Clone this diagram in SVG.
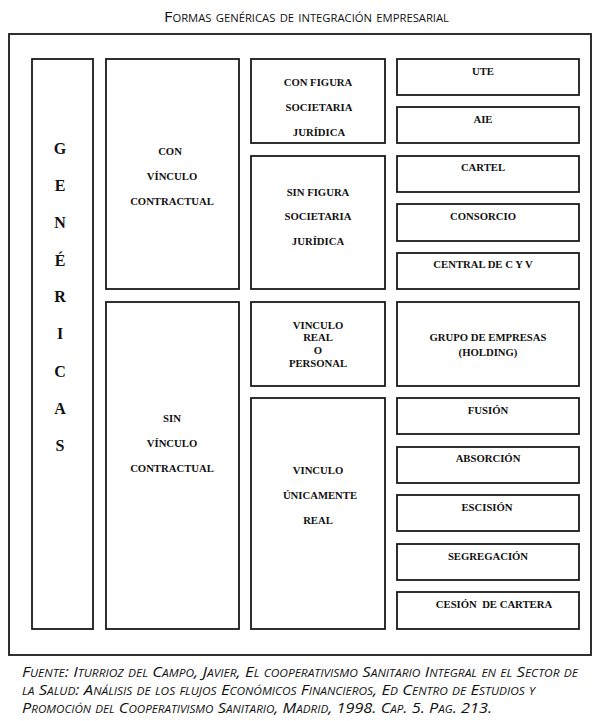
<svg xmlns="http://www.w3.org/2000/svg" width="600" height="721" viewBox="0 0 600 721">
<style>
rect.b{fill:#fff;stroke:#1a1a1a;stroke-width:1.8}
text.t{font-family:"Liberation Serif","Times New Roman",serif;font-weight:bold;font-size:10.7px;fill:#111;text-anchor:middle}
text.g{font-family:"Liberation Serif","Times New Roman",serif;font-weight:bold;font-size:16px;fill:#111;text-anchor:middle}
text.h{font-family:"Open Sans","Liberation Sans",sans-serif;font-size:14.5px;fill:#111;font-variant:small-caps}
text.f{font-family:"Open Sans","Liberation Sans",sans-serif;font-size:14px;font-style:italic;fill:#111;font-variant:small-caps}
</style>
<rect width="600" height="721" fill="#fff"/>
<text class="h" x="164" y="22" textLength="285" lengthAdjust="spacingAndGlyphs">Formas genéricas de integración empresarial</text>
<rect class="b" x="9" y="34" width="582" height="621"/>
<g id="genericas">
<rect class="b" x="32" y="59" width="61" height="570"/>
<text class="g" x="60" y="154">G</text>
<text class="g" x="60" y="191">E</text>
<text class="g" x="60" y="228">N</text>
<text class="g" x="60" y="266">É</text>
<text class="g" x="60" y="302">R</text>
<text class="g" x="60" y="339">I</text>
<text class="g" x="60" y="377">C</text>
<text class="g" x="60" y="414">A</text>
<text class="g" x="60" y="451">S</text>
</g>
<g id="con-vinculo">
<rect class="b" x="106" y="59" width="133" height="230"/>
<text class="t" x="170" y="155">CON</text>
<text class="t" x="172" y="180">VÍNCULO</text>
<text class="t" x="172" y="205">CONTRACTUAL</text>
</g>
<g id="sin-vinculo">
<rect class="b" x="106" y="302" width="133" height="327"/>
<text class="t" x="172" y="422">SIN</text>
<text class="t" x="172" y="447">VÍNCULO</text>
<text class="t" x="172" y="472">CONTRACTUAL</text>
</g>
<g id="con-figura">
<rect class="b" x="251" y="59" width="134" height="84"/>
<text class="t" x="318" y="86">CON FIGURA</text>
<text class="t" x="319" y="111">SOCIETARIA</text>
<text class="t" x="319" y="136">JURÍDICA</text>
</g>
<g id="sin-figura">
<rect class="b" x="251" y="156" width="134" height="133"/>
<text class="t" x="318" y="196">SIN FIGURA</text>
<text class="t" x="318" y="220">SOCIETARIA</text>
<text class="t" x="318" y="245">JURÍDICA</text>
</g>
<g id="vinculo-real-personal">
<rect class="b" x="251" y="302" width="134" height="84"/>
<text class="t" x="318" y="329">VINCULO</text>
<text class="t" x="318" y="341">REAL</text>
<text class="t" x="318" y="354">O</text>
<text class="t" x="318" y="367">PERSONAL</text>
</g>
<g id="vinculo-real">
<rect class="b" x="251" y="398" width="134" height="231"/>
<text class="t" x="318" y="474">VINCULO</text>
<text class="t" x="320" y="499">ÚNICAMENTE</text>
<text class="t" x="318" y="524">REAL</text>
</g>
<g id="ute"><rect class="b" x="397" y="59" width="182" height="36"/><text class="t" x="483" y="75">UTE</text></g>
<g id="aie"><rect class="b" x="397" y="107" width="182" height="36"/><text class="t" x="483" y="123">AIE</text></g>
<g id="cartel"><rect class="b" x="397" y="156" width="182" height="36"/><text class="t" x="483" y="171">CARTEL</text></g>
<g id="consorcio"><rect class="b" x="397" y="204" width="182" height="37"/><text class="t" x="483" y="220">CONSORCIO</text></g>
<g id="central"><rect class="b" x="397" y="253" width="182" height="36"/><text class="t" x="483" y="268">CENTRAL DE C Y V</text></g>
<g id="grupo"><rect class="b" x="397" y="302" width="182" height="84"/><text class="t" x="488" y="341">GRUPO DE EMPRESAS</text><text class="t" x="488" y="356">(HOLDING)</text></g>
<g id="fusion"><rect class="b" x="397" y="398" width="182" height="36"/><text class="t" x="488" y="414">FUSIÓN</text></g>
<g id="absorcion"><rect class="b" x="397" y="447" width="182" height="36"/><text class="t" x="488" y="462">ABSORCIÓN</text></g>
<g id="escision"><rect class="b" x="397" y="495" width="182" height="36"/><text class="t" x="487" y="511">ESCISIÓN</text></g>
<g id="segregacion"><rect class="b" x="397" y="544" width="182" height="36"/><text class="t" x="488" y="560">SEGREGACIÓN</text></g>
<g id="cesion"><rect class="b" x="397" y="592" width="182" height="37"/><text class="t" x="494" y="608" xml:space="preserve">CESIÓN  DE CARTERA</text></g>
<g id="connectors"/>
<text class="f" x="22" y="677" textLength="556" lengthAdjust="spacingAndGlyphs">Fuente: Iturrioz del Campo, Javier, El cooperativismo Sanitario Integral en el Sector de</text>
<text class="f" x="22" y="695" textLength="513" lengthAdjust="spacingAndGlyphs">la Salud: Análisis de los flujos Económicos Financieros, Ed Centro de Estudios y</text>
<text class="f" x="22" y="713" textLength="470" lengthAdjust="spacingAndGlyphs">Promoción del Cooperativismo Sanitario, Madrid, 1998. Cap. 5. Pag. 213.</text>
</svg>
